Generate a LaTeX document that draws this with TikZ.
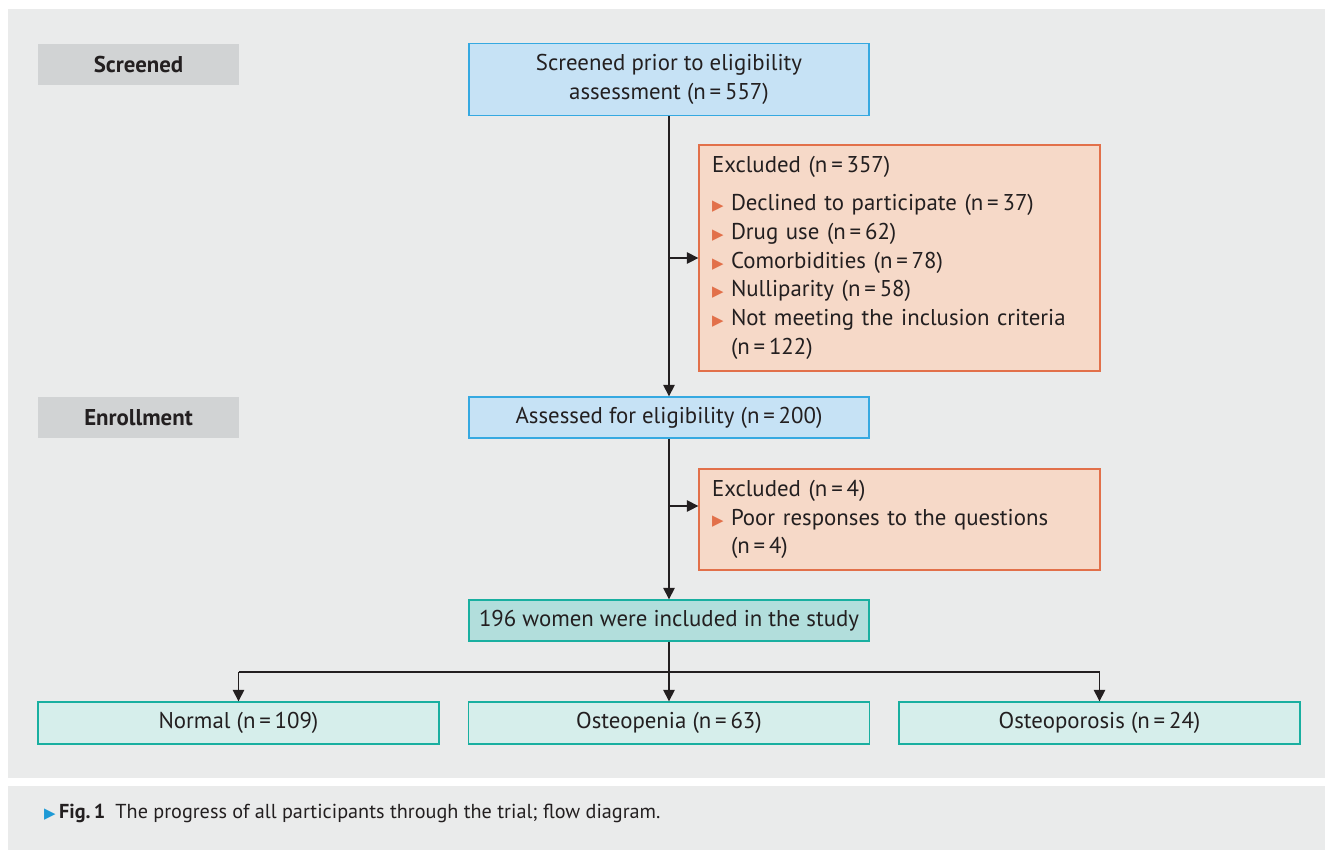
\documentclass[tikz,border=0pt]{standalone}
\usepackage{fontspec}
\setmainfont{PT Sans}
\newfontfamily\symfont{DejaVu Sans}
\usepackage{xcolor}
\usetikzlibrary{positioning,arrows.meta}

\definecolor{bggrey}{HTML}{EAEBEB}
\definecolor{labgrey}{HTML}{D1D3D4}
\definecolor{txtdark}{HTML}{231F20}
\definecolor{bluefill}{HTML}{C6E2F5}
\definecolor{blueline}{HTML}{36A9E1}
\definecolor{exclfill}{HTML}{F6D9C8}
\definecolor{exclline}{HTML}{E2704A}
\definecolor{inclfill}{HTML}{B2DEDC}
\definecolor{grpfill}{HTML}{D6EEEB}
\definecolor{tealline}{HTML}{19AFA0}
\definecolor{capblue}{HTML}{1E9AD6}

\newcommand{\bul}{\makebox[10.8pt][l]{\textcolor{exclline}{\symfont\fontsize{8.5}{8.5}\selectfont ▶}}}
\newcommand{\nn}[1]{(n\,=\,#1)}

\tikzset{
  every node/.style={font=\fontsize{13}{16.4}\selectfont, text=txtdark},
  lab/.style={fill=labgrey, minimum width=4.02cm, minimum height=0.82cm, font=\fontsize{13}{16.4}\selectfont\bfseries},
  bluebox/.style={draw=blueline, fill=bluefill, line width=0.8pt, minimum width=8cm, align=center},
  exclbox/.style={draw=exclline, fill=exclfill, line width=0.8pt, minimum width=8.02cm, text width=7.5cm, align=left},
  inclbox/.style={draw=tealline, fill=inclfill, line width=0.8pt, minimum width=8cm, minimum height=0.82cm},
  grpbox/.style={draw=tealline, fill=grpfill, line width=0.8pt, minimum width=8.02cm, minimum height=0.84cm},
  arr/.style={draw=txtdark, line width=0.8pt, -{Triangle[length=6.5pt,width=6.5pt]}},
  ln/.style={draw=txtdark, line width=0.8pt}
}

\begin{document}
\begin{tikzpicture}[x=0.02cm,y=-0.02cm]
  \useasboundingbox (0,0) rectangle (1325,850);
  % panels
  \fill[bggrey] (8,9) rectangle (1325,778);
  \fill[bggrey] (8,786) rectangle (1325,850);

  % stage labels
  \node[lab] (scr) at (138.5,64.5) {Screened};
  \node[lab] (enr) at (138.5,417.5) {Enrollment};

  % main column
  \node[bluebox, minimum height=1.44cm] (b1) at (669,79.5)
    {Screened prior to eligibility\\assessment \nn{557}};
  \node[exclbox, minimum height=4.52cm] (ex1) at (899.5,258)
    {Excluded \nn{357}\\[5pt]
     \bul Declined to participate \nn{37}\\
     \bul Drug use \nn{62}\\
     \bul Comorbidities \nn{78}\\
     \bul Nulliparity \nn{58}\\
     \bul Not meeting the inclusion criteria\\
     \hspace*{10.8pt}\nn{122}};
  \node[bluebox, minimum height=0.82cm] (b2) at (669,417.5)
    {Assessed for eligibility \nn{200}};
  \node[exclbox, minimum height=2.02cm] (ex2) at (899.5,519.5)
    {Excluded \nn{4}\\
     \bul Poor responses to the questions\\
     \hspace*{10.8pt}\nn{4}};
  \node[inclbox] (b3) at (669,620.5) {196 women were included in the study};

  % groups
  \node[grpbox] (o1) at (238.5,723) {Normal \nn{109}};
  \node[grpbox] (o2) at (669,723) {Osteopenia \nn{63}};
  \node[grpbox] (o3) at (1099.5,723) {Osteoporosis \nn{24}};

  % connectors
  \draw[arr] (b1) -- (b2);
  \draw[arr] (b1.south |- ex1.west) -- (ex1.west);
  \draw[arr] (b2) -- (b3);
  \coordinate (j2) at (669,506);
  \draw[arr] (j2) -- (j2 -| ex2.west);
  \draw[arr] (b3) -- (o2);
  \coordinate (sp) at (669,672);
  \draw[ln] (o1.north |- sp) -- (o3.north |- sp);
  \draw[arr] (o1.north |- sp) -- (o1.north);
  \draw[arr] (o3.north |- sp) -- (o3.north);

  % caption
  \node[anchor=west, font=\fontsize{11.5}{13}\selectfont] (cap) at (38,813)
    {\textcolor{capblue}{\symfont\fontsize{8.5}{8.5}\selectfont ▶}\,\textbf{Fig.\,1}\enspace The progress of all participants through the trial; flow diagram.};
\end{tikzpicture}
\end{document}
